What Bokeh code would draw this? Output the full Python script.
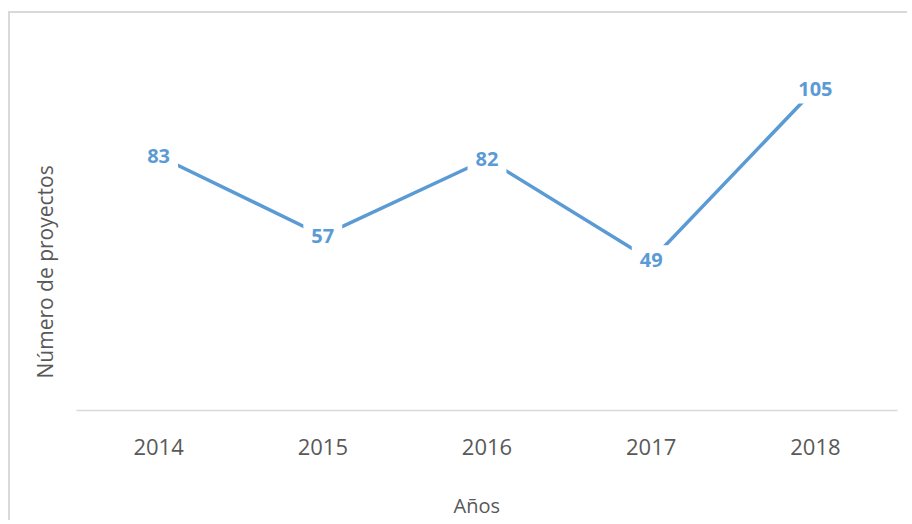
from bokeh.plotting import figure
from bokeh.models import ColumnDataSource, Title, FactorRange, Range1d
from bokeh.core.properties import value
from bokeh.embed import file_html
from bokeh.resources import INLINE

years = ["2014", "2015", "2016", "2017", "2018"]
projects = [83, 57, 82, 49, 105]
value_labels = [str(v) for v in projects]

LINE = "#5B9BD5"
GREY = "#595959"

src = ColumnDataSource(dict(x=years, y=projects, t=value_labels))

p = figure(x_range=FactorRange(*years, range_padding=0), y_range=Range1d(0, 120),
           frame_width=821, frame_height=368,
           min_border_left=66, min_border_right=10, min_border_top=29, min_border_bottom=100,
           output_backend="svg", toolbar_location=None,
           background_fill_color="white", border_fill_color="white")
p.outline_line_color = None
p.grid.visible = False
p.yaxis.visible = False

xa = p.xaxis[0]
xa.axis_line_color = "#D9D9D9"
xa.axis_line_width = 1.5
xa.major_tick_line_color = None
xa.minor_tick_line_color = None
xa.major_label_text_font = "Open Sans"
xa.major_label_text_font_size = "22px"
xa.major_label_text_color = GREY
xa.major_label_standoff = 22

p.line("x", "y", source=src, line_color=LINE, line_width=3.5)

p.text(x="x", y="y", text="t", source=src,
       text_font=value("Open Sans"), text_font_size="20px", text_font_style="bold",
       text_color=LINE, text_align="center", text_baseline="middle",
       background_fill_color="white", padding=8)

ytitle = Title(text="Número de proyectos", align="left", offset=32,
               vertical_align="bottom", standoff=36,
               text_font="Open Sans", text_font_size="21px", text_font_style="normal",
               text_color=GREY)
p.add_layout(ytitle, "left")

spacer = Title(text=" ", standoff=15, text_font="Open Sans", text_font_size="12px",
               text_color=GREY)
p.add_layout(spacer, "below")

xtitle = Title(text="Años", align="left", offset=377,
               vertical_align="top", standoff=0,
               text_font="Open Sans", text_font_size="20px", text_font_style="normal",
               text_color=GREY)
p.add_layout(xtitle, "below")

p.styles = {"border-left": "2px solid #D9D9D9", "border-top": "2px solid #D9D9D9",
            "margin-top": "11px", "margin-left": "8px"}

open("out.html", "w").write(file_html(p, INLINE))
